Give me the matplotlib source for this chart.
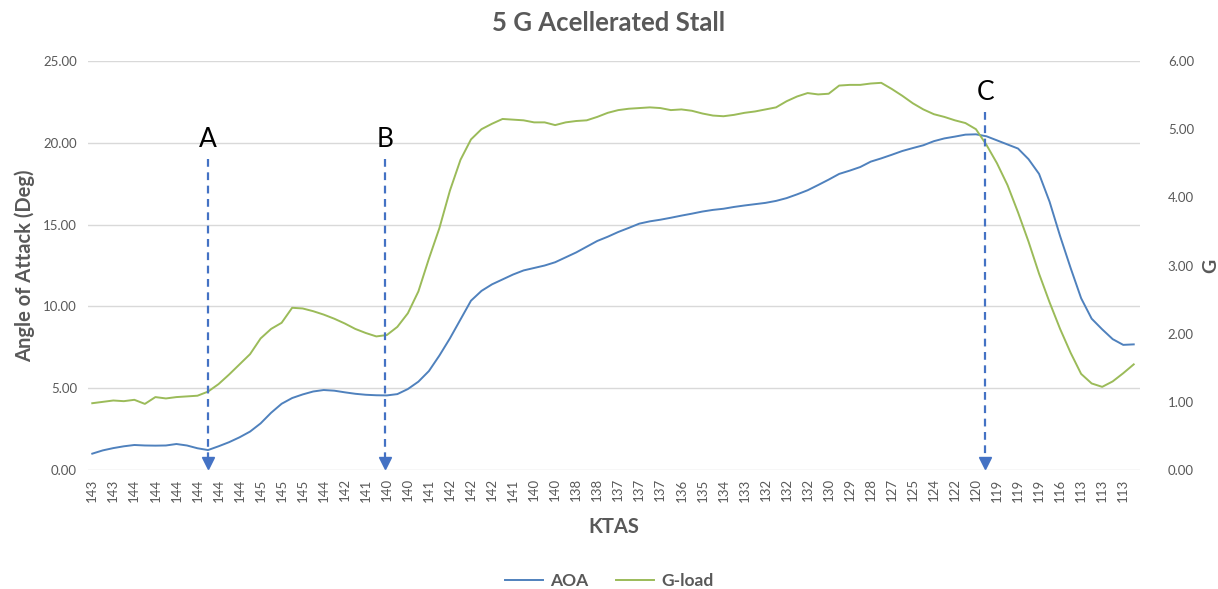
import matplotlib
matplotlib.use("Agg")
import matplotlib.pyplot as plt
import numpy as np

plt.rcParams['font.family'] = ['Lato', 'DejaVu Sans']

# KTAS labels shown under every second sample
ktas_labels = [143, 143, 144, 144, 144, 144, 144, 144, 145, 145,
               145, 144, 142, 141, 140, 140, 141, 142, 142, 142,
               141, 140, 140, 138, 138, 137, 137, 137, 136, 135,
               134, 133, 132, 132, 132, 130, 129, 128, 127, 125,
               124, 122, 120, 119, 119, 119, 116, 113, 113, 113]

# angle of attack (deg)
aoa = [1.00, 1.20, 1.34, 1.45, 1.53, 1.50, 1.49, 1.50, 1.59, 1.50,
       1.33, 1.22, 1.45, 1.70, 2.00, 2.35, 2.85, 3.50, 4.05, 4.40,
       4.62, 4.80, 4.89, 4.85, 4.75, 4.66, 4.60, 4.57, 4.56, 4.64,
       4.95, 5.40, 6.05, 7.00, 8.05, 9.20, 10.35, 10.95, 11.35, 11.65,
       11.95, 12.20, 12.35, 12.50, 12.70, 13.00, 13.30, 13.65, 14.00, 14.26,
       14.55, 14.80, 15.06, 15.20, 15.30, 15.42, 15.55, 15.67, 15.80, 15.90,
       15.97, 16.08, 16.17, 16.25, 16.33, 16.45, 16.62, 16.85, 17.10, 17.42,
       17.75, 18.10, 18.30, 18.52, 18.85, 19.05, 19.27, 19.50, 19.68, 19.85,
       20.10, 20.27, 20.38, 20.50, 20.52, 20.40, 20.15, 19.90, 19.65, 19.00,
       18.10, 16.40, 14.30, 12.35, 10.50, 9.25, 8.60, 8.00, 7.65, 7.68]

# load factor (G)
g_load = [0.98, 1.00, 1.02, 1.01, 1.03, 0.97, 1.07, 1.05, 1.07, 1.08,
          1.09, 1.15, 1.26, 1.40, 1.55, 1.70, 1.93, 2.07, 2.16, 2.38,
          2.37, 2.33, 2.28, 2.22, 2.15, 2.07, 2.01, 1.96, 1.98, 2.10,
          2.30, 2.62, 3.10, 3.55, 4.10, 4.55, 4.85, 5.00, 5.08, 5.15,
          5.14, 5.13, 5.10, 5.10, 5.06, 5.10, 5.12, 5.13, 5.18, 5.24,
          5.28, 5.30, 5.31, 5.32, 5.31, 5.28, 5.29, 5.27, 5.23, 5.20,
          5.19, 5.21, 5.24, 5.26, 5.29, 5.32, 5.41, 5.48, 5.53, 5.51,
          5.52, 5.64, 5.65, 5.65, 5.67, 5.68, 5.59, 5.49, 5.38, 5.29,
          5.22, 5.18, 5.13, 5.09, 5.00, 4.77, 4.50, 4.18, 3.78, 3.35,
          2.88, 2.46, 2.07, 1.72, 1.41, 1.27, 1.22, 1.30, 1.42, 1.55]

# event markers: (label, sample index, top of arrow in AOA units)
events = [("A", 11.0, 19.0), ("B", 27.85, 19.0), ("C", 84.9, 21.9)]

blue = '#4F81BD'
green = '#9BBB59'
grey = '#595959'

idx = np.arange(len(aoa))

fig = plt.figure(figsize=(12.18, 5.89), dpi=100)
ax = fig.add_axes([0.0723, 0.202, 0.8637, 0.6944])
ax2 = ax.twinx()

ax.plot(idx, aoa, color=blue, lw=1.4, label='AOA', zorder=3)
ax2.plot(idx, g_load, color=green, lw=1.4, label='G-load', zorder=3)

ax.set_ylim(0, 25)
ax2.set_ylim(0, 6)
ax.set_xlim(-0.4, len(aoa) - 0.4)
ax.set_yticks(np.arange(0, 26, 5))
ax.set_yticklabels([f"{v:.2f}" for v in np.arange(0, 26, 5)])
ax2.set_yticks(np.arange(0, 7, 1))
ax2.set_yticklabels([f"{v:.2f}" for v in np.arange(0, 7, 1)])
ax.set_xticks(idx[::2])
ax.set_xticklabels([str(k) for k in ktas_labels], rotation=90)

ax.grid(axis='y', color='#d9d9d9', lw=1)
ax.set_axisbelow(True)
for a in (ax, ax2):
    for s in a.spines.values():
        s.set_visible(False)
    a.tick_params(length=0, colors=grey, labelsize=9.5)
ax.tick_params(axis='y', pad=8)
ax2.tick_params(axis='y', pad=20)
ax.tick_params(axis='x', pad=6)

ax.set_ylabel('Angle of Attack (Deg)', fontsize=14.5, fontweight='bold', color=grey, labelpad=6)
ax2.set_ylabel('G', fontsize=14, fontweight='bold', color=grey, labelpad=6)
ax.set_xlabel('KTAS', fontsize=14.5, fontweight='bold', color=grey, labelpad=11)
fig.suptitle('5 G Acellerated Stall', fontsize=18.5, fontweight='bold', color=grey, y=0.982)

# dashed arrows marking the points of interest
for name, xi, top in events:
    ax2.plot([xi, xi], [top * 6 / 25, 0.12], color='#4472C4', lw=1.6, ls=(0, (3.5, 2.5)), zorder=5)
    ax2.plot([xi], [0.1], marker='v', color='#4472C4', ms=9, zorder=5)
    ax2.text(xi, top * 6 / 25 + 0.1, name, ha='center', va='bottom', fontsize=19, color='black')

h1, l1 = ax.get_legend_handles_labels()
h2, l2 = ax2.get_legend_handles_labels()
leg = fig.legend(h1 + h2, l1 + l2, loc='lower center', ncol=2, frameon=False,
                 bbox_to_anchor=(0.5, -0.026), handlelength=2.2, columnspacing=1.6,
                 handletextpad=0.4, prop={'size': 12.5, 'weight': 'bold'})
for t in leg.get_texts():
    t.set_color(grey)

fig.savefig('out.png', dpi=100)
